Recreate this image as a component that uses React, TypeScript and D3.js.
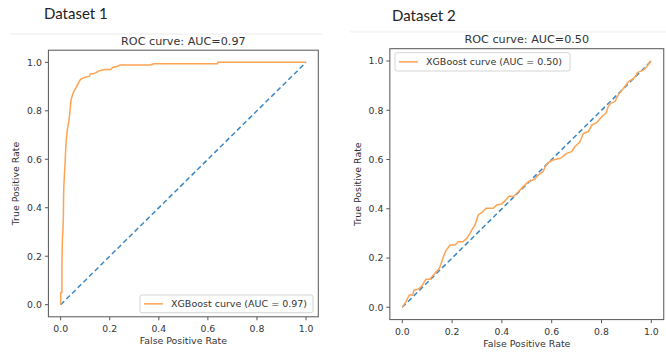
import React from 'react';
import * as d3 from 'd3';

// ROC points
const fpr1 = [0, 0, 0.005, 0.005, 0.007, 0.009, 0.011, 0.012, 0.013, 0.016, 0.018, 0.02, 0.022, 0.025, 0.027, 0.032, 0.034, 0.038, 0.042, 0.05, 0.054, 0.065, 0.075, 0.081, 0.099, 0.117, 0.122, 0.14, 0.157, 0.18, 0.204, 0.212, 0.235, 0.242, 0.364, 0.38, 0.64, 0.64, 1];
const tpr1 = [0, 0.05, 0.05, 0.16, 0.27, 0.3, 0.36, 0.45, 0.49, 0.55, 0.58, 0.63, 0.67, 0.7, 0.72, 0.75, 0.76, 0.8, 0.845, 0.87, 0.88, 0.9, 0.92, 0.93, 0.938, 0.943, 0.952, 0.955, 0.965, 0.97, 0.97, 0.979, 0.985, 0.989, 0.989, 0.994, 0.994, 1, 1];

const fpr2 = [0, 0.015, 0.028, 0.042, 0.047, 0.064, 0.078, 0.095, 0.111, 0.131, 0.149, 0.165, 0.175, 0.192, 0.212, 0.225, 0.243, 0.259, 0.272, 0.279, 0.292, 0.305, 0.319, 0.336, 0.365, 0.379, 0.399, 0.413, 0.43, 0.446, 0.466, 0.486, 0.506, 0.532, 0.545, 0.565, 0.576, 0.585, 0.605, 0.636, 0.66, 0.68, 0.693, 0.714, 0.727, 0.747, 0.761, 0.781, 0.801, 0.818, 0.827, 0.837, 0.854, 0.867, 0.888, 0.908, 0.925, 0.941, 0.944, 0.968, 0.982, 0.995, 1];
const tpr2 = [0, 0.023, 0.05, 0.05, 0.07, 0.073, 0.086, 0.114, 0.114, 0.138, 0.158, 0.205, 0.23, 0.253, 0.253, 0.266, 0.266, 0.28, 0.3, 0.314, 0.334, 0.375, 0.384, 0.402, 0.402, 0.415, 0.419, 0.433, 0.452, 0.449, 0.469, 0.49, 0.51, 0.52, 0.537, 0.551, 0.574, 0.587, 0.598, 0.605, 0.625, 0.632, 0.652, 0.672, 0.706, 0.713, 0.74, 0.75, 0.774, 0.788, 0.815, 0.828, 0.835, 0.862, 0.889, 0.916, 0.926, 0.943, 0.953, 0.963, 0.977, 0.997, 1];

const diagonal = [0, 1];
const ticks = [0, 0.2, 0.4, 0.6, 0.8, 1.0];
const datasetNames = ['Dataset 1', 'Dataset 2'];
const titles = ['ROC curve: AUC=0.97', 'ROC curve: AUC=0.50'];
const legendLabels = ['XGBoost curve (AUC = 0.97)', 'XGBoost curve (AUC = 0.50)'];

const ORANGE = '#ffa352';
const BLUE = '#3b87c4';
const INK = '#333';
const FONT = '"DejaVu Sans", sans-serif';

type PanelProps = {
  fpr: number[];
  tpr: number[];
  xr: [number, number];
  yr: [number, number];
  name: string;
  nameX: number;
  nameY: number;
  title: string;
  titleY: number;
  legend: string;
  legendBox: { x: number; y: number; w: number; h: number };
  bandX: [number, number];
};

const Panel = (p: PanelProps) => {
  const x = d3.scaleLinear().domain([-0.05, 1.05]).range(p.xr);
  const y = d3.scaleLinear().domain([-0.05, 1.05]).range(p.yr);
  const pts = p.fpr.map((f, i) => [f, p.tpr[i]] as [number, number]);
  const line = d3.line<[number, number]>().x(d => x(d[0])).y(d => y(d[1]));
  const diag = line(diagonal.map(v => [v, v] as [number, number]));
  const [x0, x1] = p.xr;
  const [y0, y1] = p.yr; // y0 bottom, y1 top
  const cx = (x0 + x1) / 2;
  const cy = (y0 + y1) / 2;
  const lb = p.legendBox;

  return (
    <g>
      <rect x={p.bandX[0]} y={p.titleY - 12} width={p.bandX[1] - p.bandX[0]} height={2} fill="#f5f5f5" />
      <text x={p.nameX} y={p.nameY} fontFamily='Lato, "Open Sans", sans-serif' fontSize={15} fill="#222">{p.name}</text>
      <text x={cx} y={p.titleY} textAnchor="middle" fontFamily={FONT} fontSize={11.2} fill={INK}>{p.title}</text>

      <path d={diag || ''} fill="none" stroke={BLUE} strokeWidth={1.5} strokeDasharray="5,3" />
      <path d={line(pts) || ''} fill="none" stroke={ORANGE} strokeWidth={1.5} strokeLinejoin="round" />

      <rect x={x0} y={y1} width={x1 - x0} height={y0 - y1} fill="none" stroke="#555" strokeWidth={1} />

      {ticks.map(t => (
        <g key={'x' + t}>
          <line x1={x(t)} x2={x(t)} y1={y0} y2={y0 + 3.5} stroke="#555" />
          <text x={x(t)} y={y0 + 15.5} textAnchor="middle" fontFamily={FONT} fontSize={9.3} fill={INK}>{t.toFixed(1)}</text>
        </g>
      ))}
      {ticks.map(t => (
        <g key={'y' + t}>
          <line x1={x0} x2={x0 - 3.5} y1={y(t)} y2={y(t)} stroke="#555" />
          <text x={x0 - 6.5} y={y(t) + 3.3} textAnchor="end" fontFamily={FONT} fontSize={9.3} fill={INK}>{t.toFixed(1)}</text>
        </g>
      ))}
      <text x={cx} y={y0 + 27.5} textAnchor="middle" fontFamily={FONT} fontSize={9.4} fill={INK}>False Positive Rate</text>
      <text transform={`translate(${x0 - 29},${cy}) rotate(-90)`} textAnchor="middle" fontFamily={FONT} fontSize={9.4} fill={INK}>True Positive Rate</text>

      <rect x={lb.x} y={lb.y} width={lb.w} height={lb.h} rx={2} fill="#fff" fillOpacity={0.85} stroke="#d5d5d5" />
      <line x1={lb.x + 4} x2={lb.x + 23} y1={lb.y + lb.h / 2} y2={lb.y + lb.h / 2} stroke={ORANGE} strokeWidth={1.5} />
      <text x={lb.x + 31} y={lb.y + lb.h / 2 + 3.4} fontFamily={FONT} fontSize={9.5} fill={INK}>{p.legend}</text>
    </g>
  );
};

export default function App() {
  return (
    <svg width={666} height={354} style={{ position: 'absolute', left: 0, top: 0, background: '#fff' }}>
      <Panel
        fpr={fpr1}
        tpr={tpr1}
        xr={[48.4, 318.3]}
        yr={[316.8, 50.2]}
        name={datasetNames[0]}
        nameX={44}
        nameY={18.5}
        title={titles[0]}
        titleY={45}
        legend={legendLabels[0]}
        legendBox={{ x: 140, y: 295, w: 173, h: 17.7 }}
        bandX={[10, 322]}
      />
      <Panel
        fpr={fpr2}
        tpr={tpr2}
        xr={[389.85, 663.75]}
        yr={[319.6, 48.7]}
        name={datasetNames[1]}
        nameX={392}
        nameY={20.7}
        title={titles[1]}
        titleY={42.7}
        legend={legendLabels[1]}
        legendBox={{ x: 395, y: 52.7, w: 175, h: 18.3 }}
        bandX={[350, 666]}
      />
    </svg>
  );
}
